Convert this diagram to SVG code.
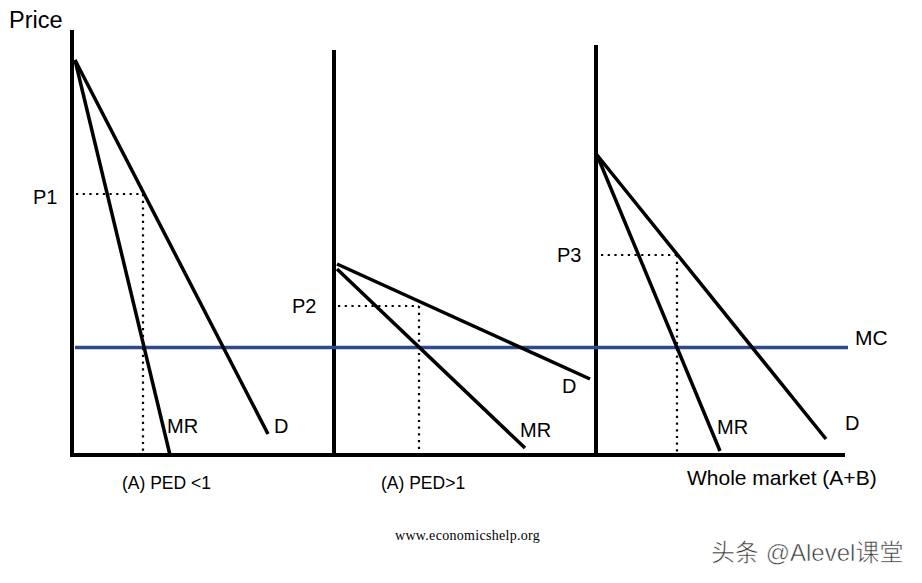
<svg xmlns="http://www.w3.org/2000/svg" width="922" height="583" viewBox="0 0 922 583">
<style>
.ax{stroke:#000;stroke-width:4;fill:none}
.cv{stroke:#000;stroke-width:3.5;fill:none;stroke-linecap:butt}
.dot{stroke:#000;stroke-width:2.2;stroke-dasharray:2.2 4.5;fill:none}
.mc{stroke:#2d4a8a;stroke-width:3.5;fill:none}
text{font-family:"Liberation Sans",Arial,sans-serif;fill:#000}
.l{font-size:20px}
.s{font-size:17.5px}
</style>
<rect width="922" height="583" fill="#fff"/>
<g id="axes">
<line class="ax" x1="72" y1="30" x2="72" y2="457"/>
<line class="ax" x1="334" y1="50" x2="334" y2="457"/>
<line class="ax" x1="596" y1="45" x2="596" y2="457"/>
<line class="ax" x1="70" y1="455" x2="845" y2="455"/>
</g>
<g id="connectors">
<line class="mc" x1="75" y1="347.5" x2="848" y2="347.5"/>
<line class="cv" x1="75" y1="60" x2="268" y2="434"/>
<line class="cv" x1="75" y1="60" x2="170" y2="455"/>
<line class="dot" x1="76" y1="194" x2="143" y2="194"/>
<line class="dot" x1="143" y1="194" x2="143" y2="455"/>
<line class="cv" x1="337" y1="264" x2="590" y2="379"/>
<line class="cv" x1="337" y1="269" x2="525" y2="448"/>
<line class="dot" x1="338" y1="306" x2="419" y2="306"/>
<line class="dot" x1="419" y1="306" x2="419" y2="455"/>
<line class="cv" x1="597" y1="155" x2="826" y2="439"/>
<line class="cv" x1="597" y1="155" x2="720" y2="451"/>
<line class="dot" x1="601" y1="255" x2="677" y2="255"/>
<line class="dot" x1="677" y1="255" x2="677" y2="455"/>
</g>
<g id="labels">
<text x="9" y="28" font-size="23.5">Price</text>
<text class="l" x="33" y="204">P1</text>
<text class="l" x="167" y="433">MR</text>
<text class="l" x="274" y="433">D</text>
<text class="s" x="122" y="489">(A) PED &lt;1</text>
<text class="l" x="292" y="313">P2</text>
<text class="l" x="562" y="393">D</text>
<text class="l" x="520" y="437">MR</text>
<text class="s" x="381" y="489">(A) PED&gt;1</text>
<text class="l" x="557" y="262">P3</text>
<text x="855" y="345" font-size="21">MC</text>
<text class="l" x="845" y="430">D</text>
<text class="l" x="717" y="434">MR</text>
<text x="687" y="485" font-size="21">Whole market (A+B)</text>
<text x="395" y="540" font-size="14" letter-spacing="0.3" style="font-family:'Liberation Serif','Times New Roman',serif">www.economicshelp.org</text>
<text x="711" y="561" font-size="24" stroke="#fff" stroke-width="0.6" style="font-family:'Liberation Sans','Noto Sans CJK SC',sans-serif;fill:#333">头条 @Alevel课堂</text>
</g>
</svg>
